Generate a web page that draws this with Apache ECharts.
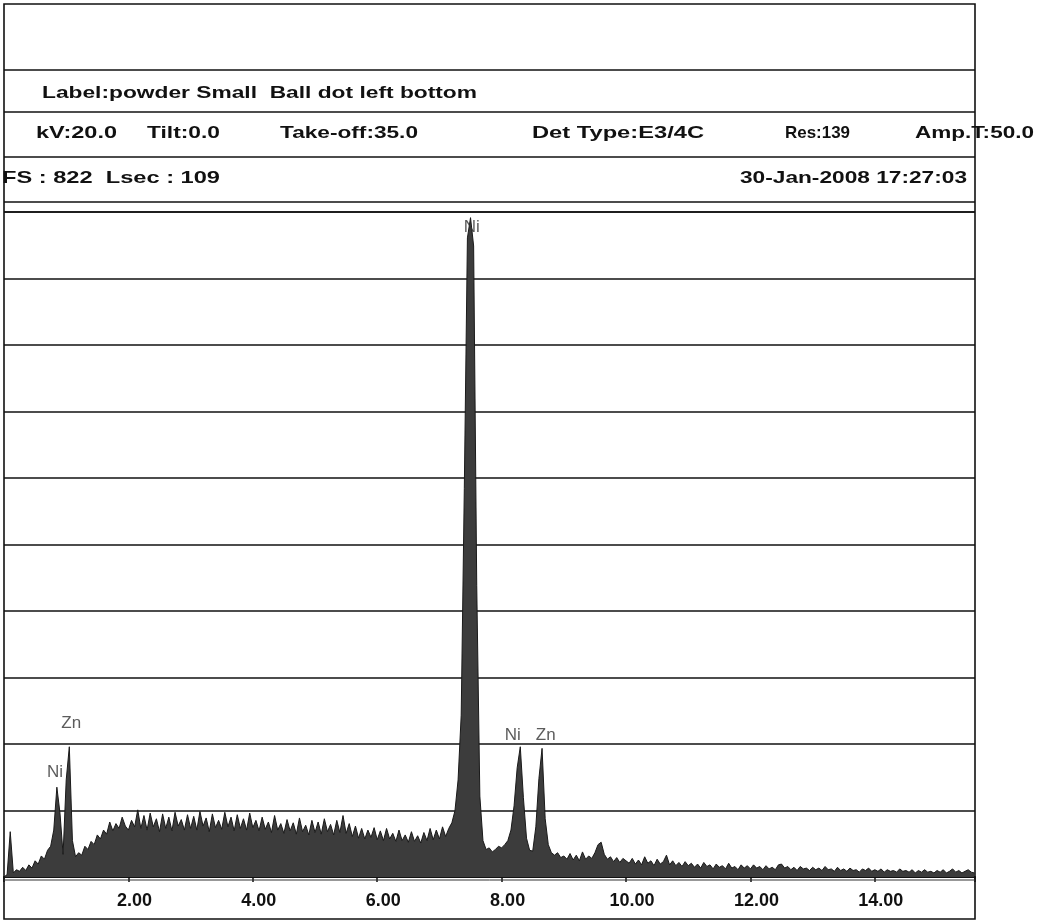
<!DOCTYPE html>
<html>
<head>
<meta charset="utf-8">
<title>EDS spectrum</title>
<script src="https://cdn.jsdelivr.net/npm/echarts@6/dist/echarts.min.js"></script>
<style>
  html, body { margin: 0; padding: 0; background: #fff; }
  #chart { width: 1040px; height: 922px; }
</style>
</head>
<body>
<div id="chart"></div>
<script>
// spectrum: counts per 0.05 keV channel, starting at 0 keV
const CHANNEL_KEV = 0.05;
const counts = [
  // 0.00 - 0.95
  0, 3, 56, 5, 9, 7, 12, 8, 15, 11, 20, 16, 26, 22, 33, 38, 58, 111, 79, 28,
  // 1.00 - 1.95
  120, 161, 45, 25, 30, 27, 38, 34, 44, 40, 52, 47, 58, 53, 68, 57, 66, 60, 74, 63,
  // 2.00 - 2.95
  58, 70, 62, 83, 60, 76, 58, 79, 62, 72, 56, 78, 60, 74, 57, 80, 63, 71, 58, 77,
  // 3.00 - 3.95
  60, 75, 58, 81, 63, 73, 56, 78, 61, 70, 59, 80, 62, 74, 57, 77, 60, 72, 58, 79,
  // 4.00 - 4.95
  61, 70, 57, 74, 59, 68, 55, 76, 58, 66, 54, 71, 57, 67, 53, 73, 56, 64, 52, 70,
  // 5.00 - 5.95
  55, 68, 53, 72, 56, 65, 52, 70, 55, 76, 54, 66, 50, 63, 48, 60, 47, 58, 49, 61,
  // 6.00 - 6.95
  46, 57, 45, 60, 47, 54, 44, 58, 45, 52, 43, 56, 44, 51, 42, 55, 45, 60, 46, 58,
  // 7.00 - 7.95
  47, 62, 50, 60, 67, 82, 120, 200, 480, 790, 815, 780, 360, 100, 45, 34, 36, 31, 34, 38,
  // 8.00 - 8.95
  36, 40, 45, 58, 88, 135, 161, 98, 48, 33, 32, 62, 122, 159, 72, 40, 30, 27, 30, 24,
  // 9.00 - 9.95
  26, 22, 29, 21, 27, 20, 31, 22, 26, 23, 30, 40, 43, 28, 22, 25, 19, 24, 18, 23,
  // 10.00 - 10.95
  20, 17, 23, 16, 21, 15, 25, 17, 20, 14, 22, 16, 19, 27, 15, 20, 14, 18, 13, 19,
  // 11.00 - 11.95
  14, 17, 12, 16, 11, 18, 13, 15, 10, 16, 12, 14, 10, 17, 11, 13, 9, 15, 11, 14,
  // 12.00 - 12.95
  10, 15, 11, 13, 9, 14, 10, 12, 9, 15, 16, 11, 13, 9, 12, 8, 13, 10, 11, 8,
  // 13.00 - 13.95
  12, 9, 11, 8, 13, 9, 10, 7, 12, 8, 10, 7, 11, 8, 9, 6, 10, 8, 11, 7,
  // 14.00 - 14.95
  9, 7, 10, 6, 9, 7, 8, 6, 10, 7, 8, 6, 9, 5, 8, 6, 9, 6, 7, 5,
  // 15.00 - 15.60
  8, 6, 9, 5, 7, 10, 6, 8, 5, 7, 9, 6, 5
];

const FULL_SCALE = 822;     // FS : 822
const ENERGY_MAX = 15.61;
const ENERGY_STEP = 2;

// element markers
const peakNames = ['Ni', 'Zn', 'Ni', 'Ni', 'Zn'];
const peakLabelKeV = [0.82, 1.08, 7.52, 8.18, 8.71];
const peakLabelCounts = [130, 190, 803, 175, 175];

// header texts
const headerLine1 = ['Label:powder Small  Ball dot left bottom'];
const headerLine2 = ['kV:20.0', 'Tilt:0.0', 'Take-off:35.0', 'Det Type:E3/4C', 'Res:139', 'Amp.T:50.0'];
const headerLine3 = ['FS : 822  Lsec : 109', '30-Jan-2008 17:27:03'];

// ---- layout (pixels) ----
const FONT = '"Liberation Sans", Arial, sans-serif';
const FRAME = { left: 4, top: 4, right: 975, bottom: 919 };
const ruleY = [70, 112, 157, 202, 212];
const headerBoxes = [
  { y: 93, spans: [[42, 477]] },
  { y: 133, spans: [[36, 117], [147, 220], [280, 418], [532, 704], [785, 850], [915, 1034]] },
  { y: 178, spans: [[2, 220], [740, 967]] }
];

const measureCtx = document.createElement('canvas').getContext('2d');
measureCtx.font = 'bold 17px ' + FONT;

const graphics = [];
graphics.push({
  type: 'rect',
  shape: { x: FRAME.left, y: FRAME.top, width: FRAME.right - FRAME.left, height: FRAME.bottom - FRAME.top },
  style: { fill: null, stroke: '#111', lineWidth: 1.6 },
  z: 10
});
ruleY.forEach(y => {
  graphics.push({
    type: 'line',
    shape: { x1: FRAME.left, y1: y, x2: FRAME.right, y2: y },
    style: { stroke: '#111', lineWidth: 1.6 },
    z: 10
  });
});
// second rule just under the energy axis
graphics.push({
  type: 'line',
  shape: { x1: FRAME.left, y1: 880, x2: FRAME.right, y2: 880 },
  style: { stroke: '#333', lineWidth: 1 },
  z: 10
});
[headerLine1, headerLine2, headerLine3].forEach((line, r) => {
  line.forEach((txt, i) => {
    const [x0, x1] = headerBoxes[r].spans[i];
    const w = measureCtx.measureText(txt).width || 1;
    graphics.push({
      type: 'text',
      x: x0,
      y: headerBoxes[r].y,
      scaleX: (x1 - x0) / w,
      style: {
        text: txt,
        fill: '#111',
        fontSize: 17,
        fontWeight: 'bold',
        fontFamily: FONT,
        align: 'left', verticalAlign: 'middle',
        textAlign: 'left', textVerticalAlign: 'middle'
      },
      z: 11
    });
  });
});

const spectrum = counts.map((c, i) => [+(i * CHANNEL_KEV).toFixed(2), c]);
const peakData = peakNames.map((n, i) => ({ name: n, value: [peakLabelKeV[i], peakLabelCounts[i]] }));

const chart = echarts.init(document.getElementById('chart'), null, { renderer: 'canvas' });
chart.setOption({
  backgroundColor: '#fff',
  animation: false,
  grid: {
    left: FRAME.left, right: 1040 - FRAME.right, top: ruleY[4], bottom: 922 - 877,
    containLabel: false, outerBoundsMode: 'none'
  },
  xAxis: {
    type: 'value',
    min: 0,
    max: ENERGY_MAX,
    interval: ENERGY_STEP,
    axisLine: { show: true, lineStyle: { color: '#111', width: 2 } },
    axisTick: { show: true, length: 5, lineStyle: { color: '#111', width: 1.5 } },
    splitLine: { show: false },
    axisLabel: {
      color: '#111',
      fontSize: 18,
      fontWeight: 'bold',
      fontFamily: FONT,
      margin: 15,
      padding: [0, 0, 0, 12],
      formatter: v => (v > 0 && Math.abs(v % ENERGY_STEP) < 1e-6) ? v.toFixed(2) : ''
    }
  },
  yAxis: {
    type: 'value',
    min: 0,
    max: FULL_SCALE,
    interval: FULL_SCALE / 10,
    axisLine: { show: false },
    axisTick: { show: false },
    axisLabel: { show: false },
    splitLine: { show: true, lineStyle: { color: '#111', width: 1.6 } }
  },
  series: [
    {
      type: 'line',
      data: spectrum,
      showSymbol: false,
      z: 2,
      lineStyle: { color: '#1a1a1a', width: 1 },
      areaStyle: { color: '#3c3c3c', opacity: 1 }
    },
    {
      type: 'scatter',
      data: peakData,
      symbolSize: 2,
      itemStyle: { color: 'rgba(0,0,0,0)' },
      z: 3,
      label: {
        show: true,
        position: 'inside',
        formatter: '{b}',
        color: '#333',
        fontSize: 17,
        fontFamily: FONT
      }
    }
  ],
  graphic: { elements: graphics }
});
</script>
</body>
</html>
